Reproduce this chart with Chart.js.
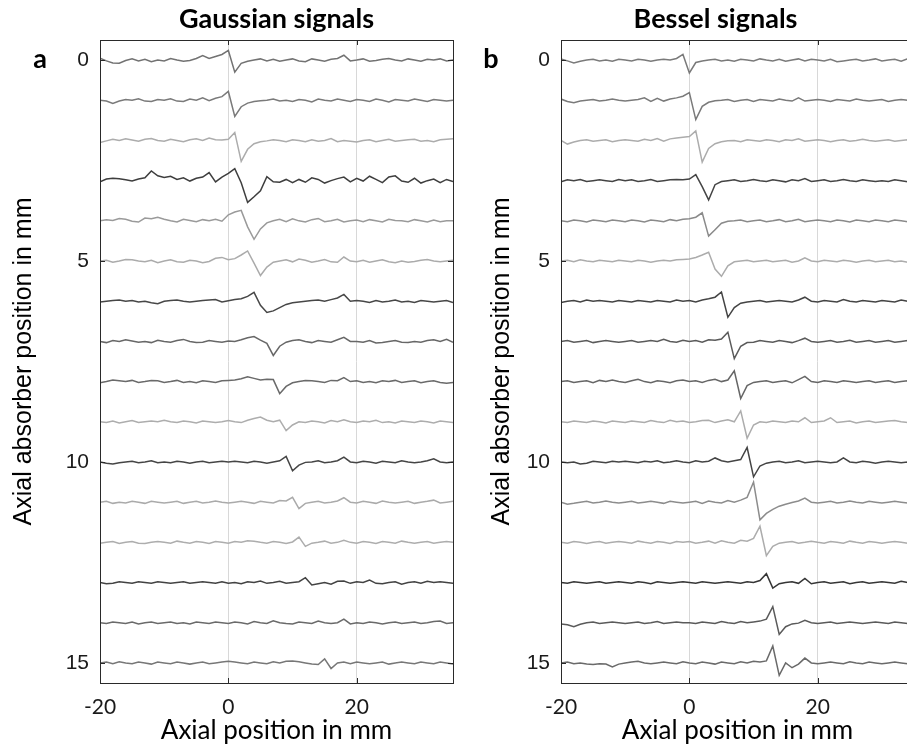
<!DOCTYPE html>
<html>
<head>
<meta charset="utf-8">
<script src="https://cdn.jsdelivr.net/npm/chart.js@4.4.1/dist/chart.umd.min.js"></script>
<style>
  html, body { margin: 0; padding: 0; background: #fff; overflow: hidden; }
  #wrap { position: relative; width: 907px; height: 747px; overflow: hidden; }
  .panel { position: absolute; top: 0; width: 460px; height: 747px; }
  #pa { left: 0; }
  #pb { left: 461px; }
</style>
</head>
<body>
<div id="wrap">
  <div class="panel" id="pa"><canvas id="ca" width="460" height="747"></canvas></div>
  <div class="panel" id="pb"><canvas id="cb" width="460" height="747"></canvas></div>
</div>
<script>
/* stacked A-scan traces, Gaussian vs Bessel beam */

const X_MM = [-20, -19, -18, -17, -16, -15, -14, -13, -12, -11,
  -10, -9, -8, -7, -6, -5, -4, -3, -2, -1,
  0, 1, 2, 3, 4, 5, 6, 7, 8, 9,
  10, 11, 12, 13, 14, 15, 16, 17, 18, 19,
  20, 21, 22, 23, 24, 25, 26, 27, 28, 29,
  30, 31, 32, 33, 34, 35];
const X_TICKS = [-20, 0, 20];
const Y_TICKS = [0, 5, 10, 15];
const TRACE_POS = [0, 1, 2, 3, 4, 5, 6, 7, 8, 9, 10, 11, 12, 13, 14, 15];

// deviation from each trace's baseline, 1/100 mm, positive = down the axis
const gauss0 = [-5, 2, 7, 8, 1, -3, 2, -2, 4, 0, 2, -4, 0, 3, 1, -4, -11, -4, -9, -14,
  -24, 30, 8, 3, 0, -3, 2, -2, 3, 0, -3, 2, 4, -3, 0, 3, -2, -4, -12, 2,
  0, -3, 3, 1, -2, -4, 0, 2, -3, 0, 3, -2, 0, -3, 2, 0];
const gauss1 = [0, 2, 8, 2, -2, 0, -4, 2, 3, -2, 0, -4, 2, 3, -3, 0, -6, 1, -5, -9,
  -22, 40, 16, 7, 3, 1, 0, -3, 2, 0, 3, -2, 0, 4, -3, 0, 2, -3, 0, 3,
  -2, 0, 3, -3, 0, 4, -2, 0, 2, -3, 0, 3, -2, 0, 2, 0];
const gauss2 = [5, 1, -3, 0, -4, -1, 2, -3, -5, 0, 2, -3, 0, 3, -2, -4, 0, -6, -2, -1,
  -3, -20, 52, 22, 8, 3, 1, -2, 0, 3, -2, 0, 3, -2, 2, 0, -5, 3, 0, 2,
  4, 0, -2, 3, 0, -3, 2, 0, -2, -3, 2, 0, 3, -2, -3, -4];
const gauss3 = [3, -4, -6, -5, -2, 1, -4, -7, -24, -12, -8, -11, -3, -7, 1, -6, -9, -20, 3, -9,
  -18, -30, 5, 54, 40, 25, -10, 3, 4, -3, 5, -3, 4, -7, -3, 6, 0, -5, -9, 3,
  -6, 1, -11, -3, 5, -9, -12, 1, 4, -6, 6, 0, -4, 5, -3, 2];
const gauss4 = [0, -3, -1, -6, -4, 1, 3, -7, -5, -9, -4, 0, 3, -4, -1, 2, -3, 0, -4, 1,
  -15, -22, -26, 15, 46, 20, 5, 0, -4, 2, -5, 0, 3, -3, -6, 2, 0, -4, 3, 0,
  -2, 2, -3, 0, 3, -4, -1, 0, 2, -3, 0, 3, -2, 2, 0, 0];
const gauss5 = [0, -2, 3, 0, -4, -3, 0, 2, -2, 4, 0, -3, 2, 3, -2, 0, 4, 1, -7, -9,
  -3, -6, -15, -25, 5, 36, 15, 3, 0, -3, 2, -5, -2, 3, 0, -4, 2, 3, -10, 0,
  2, -2, 3, 0, -3, 2, 4, 0, 3, 1, -2, -4, 0, 2, 0, -2];
const gauss6 = [2, 0, -2, -3, 0, -2, 2, 0, 4, 6, 0, -2, -3, 0, 2, 0, -2, -3, -4, 2,
  -1, -4, -6, -12, -22, 10, 28, 24, 16, 8, 4, 2, 0, -2, -3, 0, -4, -8, -17, 0,
  -2, 0, 3, -2, 2, 0, -3, 2, 0, 3, -2, 0, 2, 0, -2, 3];
const gauss7 = [0, 3, -2, 0, -4, -1, 2, 0, 3, -3, 0, 2, -2, -5, 0, 3, 2, -2, 0, 2,
  -1, 0, -4, -9, -12, -3, 5, 35, 12, 2, -2, -4, 0, 3, -2, 0, 2, -4, -10, 0,
  0, 2, -2, 4, 3, 0, -2, 2, 3, 0, 2, -2, -4, 0, -5, 2];
const gauss8 = [3, 0, -4, -2, 0, -3, 2, 0, -3, -2, 2, 0, -3, 2, 0, 3, -2, 0, 2, -2,
  -3, -4, -7, -12, -8, -4, -6, -5, 30, 12, 3, 0, -3, -2, 0, 2, -3, -2, -10, 0,
  -2, 2, 0, 3, -2, 0, -3, 2, 0, -2, 3, 0, -2, 2, 4, 2];
const gauss9 = [0, 2, -2, 3, 0, -3, 2, 0, -2, 0, -4, 0, 2, -2, 0, 3, -2, 0, 2, 0,
  -3, 0, 2, -4, -8, -12, -4, 0, -4, 22, 8, 0, 2, -2, 0, 3, -3, 0, -5, 0,
  2, -2, 0, -4, 2, 0, 3, -2, 0, 2, -2, 0, 3, -2, 0, 2];
const gauss10 = [0, 3, 5, 2, 0, -2, 2, 0, -3, 2, 0, 2, -2, 0, 3, 0, -2, 2, 0, -2,
  0, -2, 0, 2, -2, 0, 3, 0, -3, -14, 22, 8, 1, 0, -3, 2, 0, -3, -12, 0,
  2, -2, 0, 3, -2, 0, 2, -3, 0, 2, 0, -3, -8, 0, 2, 0];
const gauss11 = [0, -2, 3, 0, 2, -2, 0, 3, -2, 0, 2, 0, -2, 3, 0, -2, 2, 0, -3, 0,
  2, 0, -2, 0, 3, -2, 0, 2, -4, -3, -12, 16, 3, 0, -2, 2, 0, -3, -11, 0,
  2, -2, 0, 3, -3, 0, 2, 0, -2, 3, 0, -2, -5, 2, 0, -2];
const gauss12 = [2, 0, -2, 3, 0, -2, 2, 3, 0, -2, 0, 2, -3, 0, 2, -2, 0, 3, -2, 0,
  2, -2, 0, -4, -3, 0, 2, -2, 0, 3, -1, -13, 10, 2, 0, -3, 2, 0, -5, 0,
  2, -2, 0, 3, -2, 0, 2, -3, 0, 2, 0, -2, 2, 0, -2, 0];
const gauss13 = [0, 3, 2, -2, 0, 2, -2, 0, 2, -2, 0, 2, 0, -2, 2, 0, -2, 0, 2, -2,
  2, 0, 3, -2, 0, -4, 2, 0, -3, 2, 0, -2, -12, 6, 3, 0, 4, -3, -4, 2,
  -2, 0, -6, 2, 3, 0, -2, 4, 0, -2, 2, -3, 0, -2, 0, 2];
const gauss14 = [0, 2, -2, 0, 2, -2, 3, 0, -2, 2, 0, -2, 2, 0, 3, -2, 0, 2, -2, 0,
  2, -2, 0, 3, -3, 0, 2, -5, 0, 2, 3, -2, 0, 2, -4, 0, 2, 0, -9, 3,
  0, 2, -2, 0, 3, 0, -2, 2, 0, -2, 2, 0, -3, -4, 2, 0];
const gauss15 = [0, -2, 2, -3, 0, 2, -2, 0, 3, -2, 0, 2, -2, 0, 3, 0, -2, 2, 0, -2,
  -4, -2, 0, 2, -2, 0, 2, -3, 0, -4, -5, -3, 0, 3, 4, -10, 14, 0, -2, 2,
  -2, 0, 2, 0, -2, 3, 0, -2, 0, 2, -2, 0, 2, -2, 0, 3];

const bessel0 = [-3, 2, 7, 3, 0, -2, 2, 0, 3, -2, 0, 2, -2, 0, 3, 0, -2, 0, -4, -14,
  32, 6, 2, 0, -2, 2, 0, 3, -2, 0, 2, -3, 0, 2, -2, 3, 0, -3, 2, -2,
  0, 2, -2, 4, 2, 0, -2, 2, 0, -3, 2, 0, -2, 3, -3, 0];
const bessel1 = [-3, 3, 6, 2, 0, -2, 2, 0, -3, 0, 2, 0, -2, -6, 3, -5, 2, -3, -6, -10,
  -19, 48, 15, 5, 1, 0, -2, 3, 0, -2, 3, -2, 0, 2, -3, 0, 2, -6, 2, 0,
  -2, 0, 3, -2, 0, 2, -3, 0, 2, 0, -2, 3, 0, -2, 0, 2];
const bessel2 = [0, 9, 4, 0, -2, 2, 0, -2, 3, 0, -2, 0, 2, -3, 0, -5, 2, -4, -6, -8,
  -10, -24, 54, 20, 8, 3, 1, 0, 3, -2, 0, 2, -2, 0, 3, -2, 0, -4, 2, 0,
  -2, 0, 3, 0, -2, 2, 0, -3, 0, 2, 0, -2, 2, 0, -2, 0];
const bessel3 = [3, -2, 0, -3, 2, 0, -2, 0, 2, -3, 0, -2, 2, 0, -3, 2, 0, -2, -3, -2,
  -4, -15, 15, 48, 10, 2, 0, -2, 2, 0, -3, 0, 2, -2, 0, 3, -2, 0, -5, 2,
  0, -2, 2, 0, -3, 0, 2, -2, 0, 2, 0, 2, -2, 0, 3, 2];
const bessel4 = [0, 2, -2, 0, 3, -2, 0, 2, -2, 0, 2, -2, 0, 3, -2, 0, 2, -3, 0, -4,
  -5, -9, -20, 38, 22, 6, 1, 0, -2, 2, 0, -2, 2, 0, -3, 2, 0, -4, 2, 0,
  -2, 0, 2, -2, 0, 3, -2, 0, 2, -2, 0, 2, -2, 0, 2, 0];
const bessel5 = [0, -2, 2, -3, 0, 2, -2, 0, 2, -2, 0, 2, -2, 0, 3, 0, -2, 0, -3, -4,
  -5, -9, -15, -22, 20, 38, 12, 2, 0, -2, 2, 0, -2, 2, 0, -2, 3, 0, -8, 0,
  2, -2, 0, 2, -2, 0, 3, 0, -2, 2, 0, -2, 2, 0, 3, 0];
const bessel6 = [3, 0, -2, 2, -3, 0, -2, 0, 2, -2, 0, 2, -2, 0, 2, -2, 0, 2, -3, 0,
  -2, 2, -3, -6, -10, -23, 40, 16, 5, 2, 0, -2, 2, 0, -2, 0, 2, -3, -10, 0,
  2, -2, 0, 2, -4, 0, 2, -2, 0, 2, -2, 0, 2, -3, 0, 2];
const bessel7 = [0, -2, 2, 0, -2, 3, 0, -2, 0, 2, 0, -2, 2, 0, -2, 0, -5, 0, 2, -3,
  0, -2, 2, -4, -3, -6, -23, 43, 12, 3, 2, -2, 0, 2, -2, 0, 3, -2, -8, 0,
  2, 0, -2, 2, 0, -3, 2, 0, -2, 2, 0, -2, 2, 0, -2, 0];
const bessel8 = [0, -2, 2, 0, -2, 3, -3, 0, -4, 0, 2, -2, -6, 0, 3, -2, 0, 3, -2, -4,
  0, -2, 2, -3, -6, 0, -4, -27, 42, 10, 2, 0, -2, 2, 0, -2, 3, -5, -13, 0,
  2, -2, 0, 2, -2, 0, 2, 0, -2, 2, 0, -2, 2, 0, -2, 0];
const bessel9 = [0, 2, -2, 0, 2, -2, 0, 3, -2, 0, 2, -2, 0, 2, -3, 0, 2, -4, 0, -2,
  2, 0, -3, -4, 2, -2, -5, 0, -27, 41, 8, 0, 2, -2, 0, 2, -2, 0, -10, 2,
  0, -2, -10, 2, 0, -2, 3, 0, -2, 2, 0, -2, -3, 0, 2, -2];
const bessel10 = [0, 2, 0, 5, 3, -2, 0, 2, -2, 0, -2, 0, 2, -2, 0, -3, 2, 0, -3, 0,
  2, -3, 0, -2, -10, -3, 0, -3, -6, -36, 37, 10, 3, 0, -2, 2, 0, -3, 2, 0,
  -2, 0, 2, 0, -10, 0, 2, -2, 0, 3, 0, -2, 0, 2, 0, 2];
const bessel11 = [0, 5, 3, 0, -2, 2, 0, -3, 0, 2, 0, -2, 2, 0, -2, 0, 3, -2, 0, 2,
  0, -2, 3, -3, 0, 2, -4, 0, -5, -12, -50, 44, 28, 18, 10, 5, 1, -3, -10, 0,
  2, 0, -2, 2, 0, -3, 0, 2, -2, 0, 2, 0, -2, 0, 2, 0];
const bessel12 = [0, 2, -2, 0, 3, 0, -2, 2, 0, -2, 0, 2, -3, 0, 2, -2, 0, 3, -2, 0,
  -2, 2, 0, -3, 2, -4, 0, 2, -5, -3, -10, -40, 33, 10, 2, 0, -2, 2, 0, -3,
  0, 2, -2, 0, 2, -3, 0, 2, -2, 0, 2, 0, -2, 0, 2, 0];
const bessel13 = [0, 2, -2, 0, 2, 0, -2, 2, 0, -2, 0, 2, -2, 0, 3, -2, 0, 2, 0, -2,
  0, 2, -2, 0, 2, 0, -2, 0, 2, -2, 0, -5, -22, 14, 3, 0, -2, 2, -10, 3,
  0, -2, 2, 0, -2, 3, 0, -2, 2, 0, -2, 0, 2, -3, 0, 2];
const bessel14 = [3, 5, 10, 4, 0, -2, 2, 0, -2, 0, 2, 0, -2, 2, 0, -3, 2, 0, -2, 0,
  0, 2, -2, 0, 2, -3, 0, 2, -3, 0, -2, -4, -9, -40, 29, 10, 3, 1, -6, 0,
  2, 0, -2, 2, 0, -2, 0, 2, 0, -2, 0, 2, -2, 0, 2, 0];
const bessel15 = [0, -2, 2, 0, 3, 4, 2, 3, 10, 3, 0, -2, -4, 0, 2, 0, -2, 0, 2, -3,
  0, 2, -2, 0, 3, -2, 0, 2, -3, 0, -4, -2, -5, -42, 31, 0, 12, 3, -12, 0,
  2, 0, -2, 0, 2, -3, 0, 2, -2, 0, 2, 0, -2, 0, 2, 0];

const GAUSS = [gauss0, gauss1, gauss2, gauss3, gauss4, gauss5, gauss6, gauss7,
  gauss8, gauss9, gauss10, gauss11, gauss12, gauss13, gauss14, gauss15];
const BESSEL = [bessel0, bessel1, bessel2, bessel3, bessel4, bessel5, bessel6, bessel7,
  bessel8, bessel9, bessel10, bessel11, bessel12, bessel13, bessel14, bessel15];

// trace greys (style only)
const GAUSS_GREYS = ["#727272", "#7a7a7a", "#acacac", "#3e3e3e", "#9a9a9a", "#ababab", "#474747", "#676767",
  "#6a6a6a", "#adadad", "#454545", "#aaaaaa", "#adadad", "#434343", "#6a6a6a", "#777777"];
const BESSEL_GREYS = ["#7a7a7a", "#7a7a7a", "#acacac", "#444444", "#8a8a8a", "#acacac", "#444444", "#5a5a5a",
  "#666666", "#acacac", "#444444", "#8c8c8c", "#acacac", "#363636", "#5a5a5a", "#6a6a6a"];

const panelDecor = {
  id: "panelDecor",
  afterDraw(chart, args, o) {
    const { ctx, chartArea: a, scales } = chart;
    const x = scales.x, y = scales.y;
    ctx.save();
    ctx.strokeStyle = "#2a2a2a";
    ctx.lineWidth = 1;
    ctx.strokeRect(a.left + 0.5, a.top + 0.5, a.right - a.left, a.bottom - a.top);
    ctx.beginPath();
    for (const v of X_TICKS) {
      const px = Math.round(x.getPixelForValue(v)) + 0.5;
      ctx.moveTo(px, a.bottom); ctx.lineTo(px, a.bottom - 5);
      ctx.moveTo(px, a.top); ctx.lineTo(px, a.top + 5);
    }
    for (const v of Y_TICKS) {
      const py = Math.round(y.getPixelForValue(v)) + 0.5;
      ctx.moveTo(a.left, py); ctx.lineTo(a.left + 5, py);
      ctx.moveTo(a.right, py); ctx.lineTo(a.right - 5, py);
    }
    ctx.stroke();
    ctx.fillStyle = "#000";
    ctx.textAlign = "center";
    ctx.textBaseline = "alphabetic";
    ctx.font = "bold 27px Lato, sans-serif";
    ctx.fillText(o.title, (a.left + a.right) / 2 + o.titleShift, 28);
    ctx.font = "bold 27px Lato, sans-serif";
    ctx.fillText(o.letter, o.letterX, 68);
    ctx.restore();
  },
};

function stackedPanel(canvasId, traces, greys, decor, yTitlePad) {
  const datasets = traces.map((dev, i) => ({
    data: X_MM.map((xv, k) => ({ x: xv, y: TRACE_POS[i] + dev[k] / 100 })),
    borderColor: greys[i],
    borderWidth: 1.5,
    pointRadius: 0,
    tension: 0,
    fill: false,
  }));
  return new Chart(document.getElementById(canvasId), {
    type: "line",
    data: { datasets },
    options: {
      responsive: false,
      animation: false,
      layout: { padding: { left: 0, right: 7, top: 40, bottom: 0 } },
      plugins: { legend: { display: false }, tooltip: { enabled: false }, panelDecor: decor },
      scales: {
        x: {
          type: "linear",
          min: -20,
          max: 35,
          afterBuildTicks: (s) => { s.ticks = X_TICKS.map((v) => ({ value: v })); },
          afterFit: (s) => { s.height = 64; },
          grid: {
            drawTicks: false,
            lineWidth: 1,
            color: (c) => (c.tick && c.tick.value === -20 ? "rgba(0,0,0,0)" : "#d8d8d8"),
          },
          border: { display: false },
          ticks: { padding: 12, color: "#1a1a1a", maxRotation: 0, autoSkip: false,
            font: { family: "Lato, sans-serif", size: 21 } },
          title: { display: true, text: "Axial position in mm", color: "#000",
            font: { family: "Lato, sans-serif", size: 26 }, padding: { top: 0, bottom: 1 } },
        },
        y: {
          type: "linear",
          reverse: true,
          min: -0.5,
          max: 15.5,
          afterBuildTicks: (s) => { s.ticks = Y_TICKS.map((v) => ({ value: v })); },
          afterFit: (s) => { s.width = 100; },
          grid: { display: false, drawTicks: false },
          border: { display: false },
          ticks: { padding: 11, color: "#1a1a1a",
            font: { family: "'Liberation Sans', Arial, sans-serif", size: 21 } },
          title: { display: true, text: "Axial absorber position in mm", color: "#000",
            font: { family: "'Liberation Sans', Arial, sans-serif", size: 25 },
            padding: { top: yTitlePad, bottom: 0 } },
        },
      },
    },
    plugins: [panelDecor],
  });
}

stackedPanel("ca", GAUSS, GAUSS_GREYS, { title: "Gaussian signals", titleShift: 0, letter: "a", letterX: 40 }, 9);
stackedPanel("cb", BESSEL, BESSEL_GREYS, { title: "Bessel signals", titleShift: -22, letter: "b", letterX: 30 }, 26);
</script>
</body>
</html>
